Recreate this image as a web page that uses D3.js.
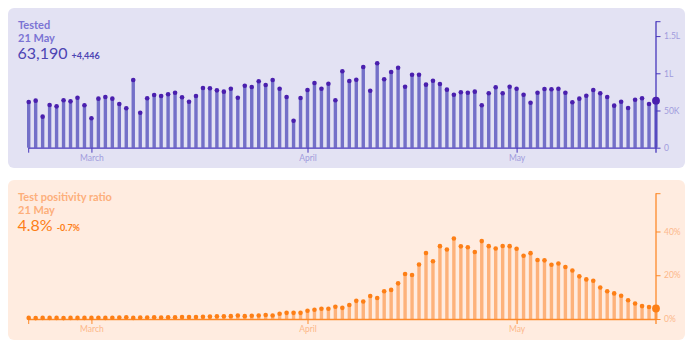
<!DOCTYPE html>
<html>
<head>
<meta charset="utf-8">
<script src="https://cdn.jsdelivr.net/npm/d3@7"></script>
<style>
  html, body { margin: 0; padding: 0; background: #ffffff; }
  svg { display: block; font-family: Lato, "Noto Sans", sans-serif; }
</style>
</head>
<body>
<svg id="chart" width="697" height="348"></svg>
<script>
// Daily series, 20 Feb 2021 – 21 May 2021
const firstDay = "2021-02-20";
const lastDay = "2021-05-21";

const tested = [
  61400, 63200, 41700, 57400, 55600, 63700, 62300, 67200, 57000, 39500,
  65900, 68100, 65900, 58700, 53000, 91000, 47000, 66400, 70800, 69500,
  71800, 73900, 67700, 61800, 69500, 80200, 79800, 77100, 75300, 79300,
  67200, 83300, 81600, 89200, 84300, 91000, 79300, 68100, 36300, 66800,
  77600, 87000, 79300, 86000, 63700, 102700, 89700, 91400, 108500, 76600,
  113400, 91900, 101700, 107500, 82000, 98100, 98100, 84700, 90000, 85600,
  78000, 71200, 74500, 73900, 75300, 57000, 73100, 81200, 73100, 82000,
  79300, 71200, 60500, 73900, 78900, 78500, 79300, 73900, 61000, 65900,
  69900, 77600, 73100, 68100, 56500, 61800, 53400, 64500, 66400, 58744,
  63190
];

const positivity = [
  0.5, 0.4, 0.5, 0.5, 0.5, 0.4, 0.5, 0.5, 0.5, 0.5,
  0.6, 0.5, 0.6, 0.7, 0.8, 0.5, 0.7, 0.7, 0.8, 0.7,
  0.8, 0.8, 0.9, 0.9, 0.9, 1.0, 1.1, 1.2, 1.2, 1.3,
  1.6, 1.3, 1.5, 1.6, 1.8, 1.6, 2.4, 2.8, 2.8, 2.8,
  3.8, 4.2, 4.7, 4.7, 5.6, 5.1, 6.4, 8.3, 8.0, 10.5,
  9.6, 12.7, 13.3, 16.3, 20.6, 20.1, 24.9, 30.2, 26.4, 33.3,
  31.8, 36.8, 33.2, 32.8, 30.6, 35.6, 33.3, 32.2, 33.4, 33.3,
  32.1, 28.9, 30.1, 27.0, 26.8, 24.8, 25.4, 23.8, 22.2, 19.5,
  18.1, 17.5, 14.4, 12.7, 11.7, 10.6, 8.6, 7.1, 5.9, 5.5,
  4.8
];

const monthTicks = ["2021-03-01", "2021-04-01", "2021-05-01"];
const monthNames = ["March", "April", "May"];

const testedTicks = [0, 50000, 100000, 150000];
const testedTickLabels = ["0", "50K", "1L", "1.5L"];
const positivityTicks = [0, 20, 40];
const positivityTickLabels = ["0%", "20%", "40%"];

const days = d3.utcDay.range(new Date(firstDay), d3.utcDay.offset(new Date(lastDay), 1));

const svg = d3.select("#chart");

const x = d3.scaleUtc()
  .domain([new Date(firstDay), new Date(lastDay)])
  .range([28.7, 656]);

const fmtInt = d3.format(",");

function drawPanel(cfg) {
  const g = svg.append("g");

  g.append("rect")
    .attr("x", 8).attr("y", cfg.top)
    .attr("width", 677).attr("height", 160)
    .attr("rx", 6)
    .attr("fill", cfg.bg);

  const y = d3.scaleLinear()
    .domain([0, cfg.yMax])
    .range([cfg.base, cfg.top + 13.2]);

  // header text
  g.append("text")
    .attr("x", 18).attr("y", cfg.top + 21)
    .attr("font-size", 11).attr("font-weight", 700)
    .attr("fill", cfg.title)
    .text(cfg.name);
  g.append("text")
    .attr("x", 18).attr("y", cfg.top + 34.3)
    .attr("font-size", 11).attr("font-weight", 700)
    .attr("fill", cfg.title)
    .text("21 May");
  const valueText = g.append("text")
    .attr("x", 17.5).attr("y", cfg.top + 51)
    .attr("fill", cfg.value);
  valueText.append("tspan")
    .attr("font-size", 16)
    .text(cfg.valueLabel);
  valueText.append("tspan")
    .attr("dx", 4)
    .attr("font-size", 9).attr("font-weight", 700)
    .text(cfg.deltaLabel);

  // stems
  g.append("g").selectAll("rect")
    .data(cfg.values)
    .join("rect")
    .attr("x", (d, i) => x(days[i]) - 1.7)
    .attr("width", 3.4)
    .attr("y", d => y(d))
    .attr("height", d => cfg.base - y(d))
    .attr("fill", cfg.bar);

  // x axis
  const xAxis = d3.axisBottom(x)
    .tickValues(monthTicks.map(s => new Date(s)))
    .tickFormat((d, i) => monthNames[i])
    .tickSize(5)
    .tickPadding(2);
  const gx = g.append("g")
    .attr("transform", `translate(0,${cfg.base})`)
    .call(xAxis);
  gx.select(".domain").remove();
  gx.selectAll(".tick line").attr("stroke", cfg.axis).attr("stroke-width", 1);
  gx.selectAll(".tick text")
    .attr("fill", cfg.tick)
    .attr("font-size", 8.5)
    .attr("font-family", "Lato, sans-serif");
  g.append("line")
    .attr("x1", x.range()[0]).attr("x2", x.range()[1])
    .attr("y1", cfg.base + 0.5).attr("y2", cfg.base + 0.5)
    .attr("stroke", cfg.axis).attr("stroke-width", 1.3);
  g.append("line")
    .attr("x1", x.range()[0]).attr("x2", x.range()[0])
    .attr("y1", cfg.base).attr("y2", cfg.base + 5)
    .attr("stroke", cfg.axis).attr("stroke-width", 1);

  // y axis on the right
  const yAxis = d3.axisRight(y)
    .tickValues(cfg.ticks)
    .tickFormat((d, i) => cfg.tickLabels[i])
    .tickSize(4.5)
    .tickPadding(3.5);
  const gy = g.append("g")
    .attr("transform", `translate(${x.range()[1]},0)`)
    .call(yAxis);
  gy.select(".domain").remove();
  gy.selectAll(".tick line").attr("stroke", cfg.axis).attr("stroke-width", 1);
  gy.selectAll(".tick text")
    .attr("fill", cfg.tick)
    .attr("font-size", 8.5)
    .attr("font-family", "Lato, sans-serif");
  g.append("line")
    .attr("x1", x.range()[1]).attr("x2", x.range()[1])
    .attr("y1", y.range()[1]).attr("y2", cfg.base + 5)
    .attr("stroke", cfg.axis).attr("stroke-width", 1.3);
  g.append("line")
    .attr("x1", x.range()[1]).attr("x2", x.range()[1] + 4.5)
    .attr("y1", y.range()[1] + 0.5).attr("y2", y.range()[1] + 0.5)
    .attr("stroke", cfg.axis).attr("stroke-width", 1);

  // dots
  const last = cfg.values.length - 1;
  g.append("g").selectAll("circle")
    .data(cfg.values)
    .join("circle")
    .attr("cx", (d, i) => x(days[i]))
    .attr("cy", d => y(d))
    .attr("r", (d, i) => i === last ? 3.9 : 2.3)
    .attr("fill", cfg.dot);
}

drawPanel({
  top: 8, base: 147.7, yMax: 170000,
  values: tested,
  name: "Tested",
  valueLabel: fmtInt(tested[tested.length - 1]),
  deltaLabel: "+" + fmtInt(tested[tested.length - 1] - tested[tested.length - 2]),
  ticks: testedTicks, tickLabels: testedTickLabels,
  bg: "#e3e2f3", title: "#7b74d4", value: "#4d45b3",
  bar: "#7470c8", dot: "#4a1fae", axis: "#4837bc", tick: "#a19cdd"
});

drawPanel({
  top: 180, base: 319, yMax: 57.5,
  values: positivity,
  name: "Test positivity ratio",
  valueLabel: positivity[positivity.length - 1].toFixed(1) + "%",
  deltaLabel: (positivity[positivity.length - 1] - positivity[positivity.length - 2]).toFixed(1) + "%",
  ticks: positivityTicks, tickLabels: positivityTickLabels,
  bg: "#ffece0", title: "#fdaf7b", value: "#fd7e17",
  bar: "#fdb27b", dot: "#fd7f16", axis: "#fd8a2a", tick: "#fdb88a"
});
</script>
</body>
</html>
